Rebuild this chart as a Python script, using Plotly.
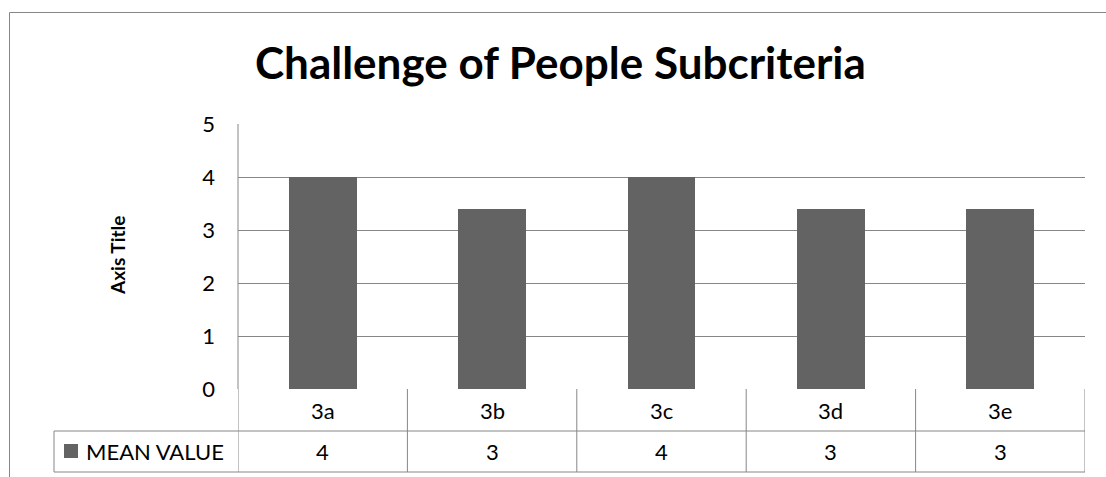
import plotly.graph_objects as go

categories = ["3a", "3b", "3c", "3d", "3e"]
mean_values = [4.0, 3.4, 4.0, 3.4, 3.4]
series_name = "MEAN VALUE"
title_text = "Challenge of People Subcriteria"
y_title = "Axis Title"
y_ticks = [0, 1, 2, 3, 4, 5]

W, H = 1106, 477
L, R, T, B = 238, 1085, 124, 389
PW, PH = R - L, B - T


def px(xp):
    return (xp - L) / PW


def py(yp):
    return (B - yp) / PH


FONT = "Lato"
GRID = "#868686"
BAR = "#636363"

fig = go.Figure()
fig.add_trace(go.Bar(x=list(range(len(categories))), y=mean_values, width=0.4,
                     marker=dict(color=BAR, line=dict(width=0)), name=series_name))

shapes = []
n = len(categories)
row1_bot = py(431)
row2_bot = py(472)
top0 = py(389)
# horizontal table lines
shapes.append(dict(type="line", xref="paper", yref="paper", x0=0, x1=1, y0=row1_bot, y1=row1_bot,
                   line=dict(color=GRID, width=1)))
shapes.append(dict(type="line", xref="paper", yref="paper", x0=px(54), x1=0, y0=row1_bot, y1=row1_bot,
                   line=dict(color=GRID, width=1)))
shapes.append(dict(type="line", xref="paper", yref="paper", x0=px(54), x1=1, y0=row2_bot, y1=row2_bot,
                   line=dict(color=GRID, width=1)))
# vertical table lines
for i in range(n + 1):
    xv = i - 0.5
    shapes.append(dict(type="line", xref="x", yref="paper", x0=xv, x1=xv, y0=top0, y1=row2_bot,
                       line=dict(color=GRID, width=1)))
shapes.append(dict(type="line", xref="paper", yref="paper", x0=px(54), x1=px(54), y0=row1_bot, y1=row2_bot,
                   line=dict(color=GRID, width=1)))
# axis line
shapes.append(dict(type="line", xref="paper", yref="paper", x0=0, x1=0, y0=0, y1=1,
                   line=dict(color=GRID, width=1)))
# legend key
shapes.append(dict(type="rect", xref="paper", yref="paper", x0=px(64), x1=px(78), y0=py(458), y1=py(444),
                   fillcolor=BAR, line=dict(width=0)))
# outer chart border
shapes.append(dict(type="rect", xref="paper", yref="paper", x0=px(9.5), x1=px(1115), y0=py(490), y1=py(12.5),
                   line=dict(color=GRID, width=1), fillcolor="rgba(0,0,0,0)", layer="below"))

annotations = []
for i, c in enumerate(categories):
    annotations.append(dict(x=i, y=py(410), xref="x", yref="paper", text=c, showarrow=False,
                            font=dict(family=FONT, size=22, color="#000"), xanchor="center", yanchor="middle"))
    annotations.append(dict(x=i, y=py(451), xref="x", yref="paper", text=f"{mean_values[i]:.0f}", showarrow=False,
                            font=dict(family=FONT, size=22, color="#000"), xanchor="center", yanchor="middle"))
annotations.append(dict(x=px(84), y=py(451), xref="paper", yref="paper", text=series_name, showarrow=False,
                        font=dict(family=FONT, size=22, color="#000"), xanchor="left", yanchor="middle"))
annotations.append(dict(x=px(560), y=py(62), xref="paper", yref="paper", text=f"<b>{title_text}</b>",
                        showarrow=False, font=dict(family=FONT, size=44, color="#000"),
                        xanchor="center", yanchor="middle"))
annotations.append(dict(x=px(117), y=py(256), xref="paper", yref="paper", text=f"<b>{y_title}</b>",
                        showarrow=False, textangle=-90, font=dict(family=FONT, size=19, color="#000"),
                        xanchor="center", yanchor="middle"))

fig.update_layout(
    width=W, height=H,
    margin=dict(l=L, r=W - R, t=T, b=H - B),
    paper_bgcolor="white", plot_bgcolor="white",
    showlegend=False,
    bargap=0,
    xaxis=dict(range=[-0.5, n - 0.5], showticklabels=False, showgrid=False, zeroline=False,
               showline=False, ticks=""),
    yaxis=dict(range=[0, 5], tickvals=y_ticks, showgrid=True, gridcolor=GRID, gridwidth=1,
               zeroline=False, showline=False, ticks="", ticklabelstandoff=22,
               tickfont=dict(family=FONT, size=22, color="#000")),
    shapes=shapes,
    annotations=annotations,
)

fig.write_html("out.html")
